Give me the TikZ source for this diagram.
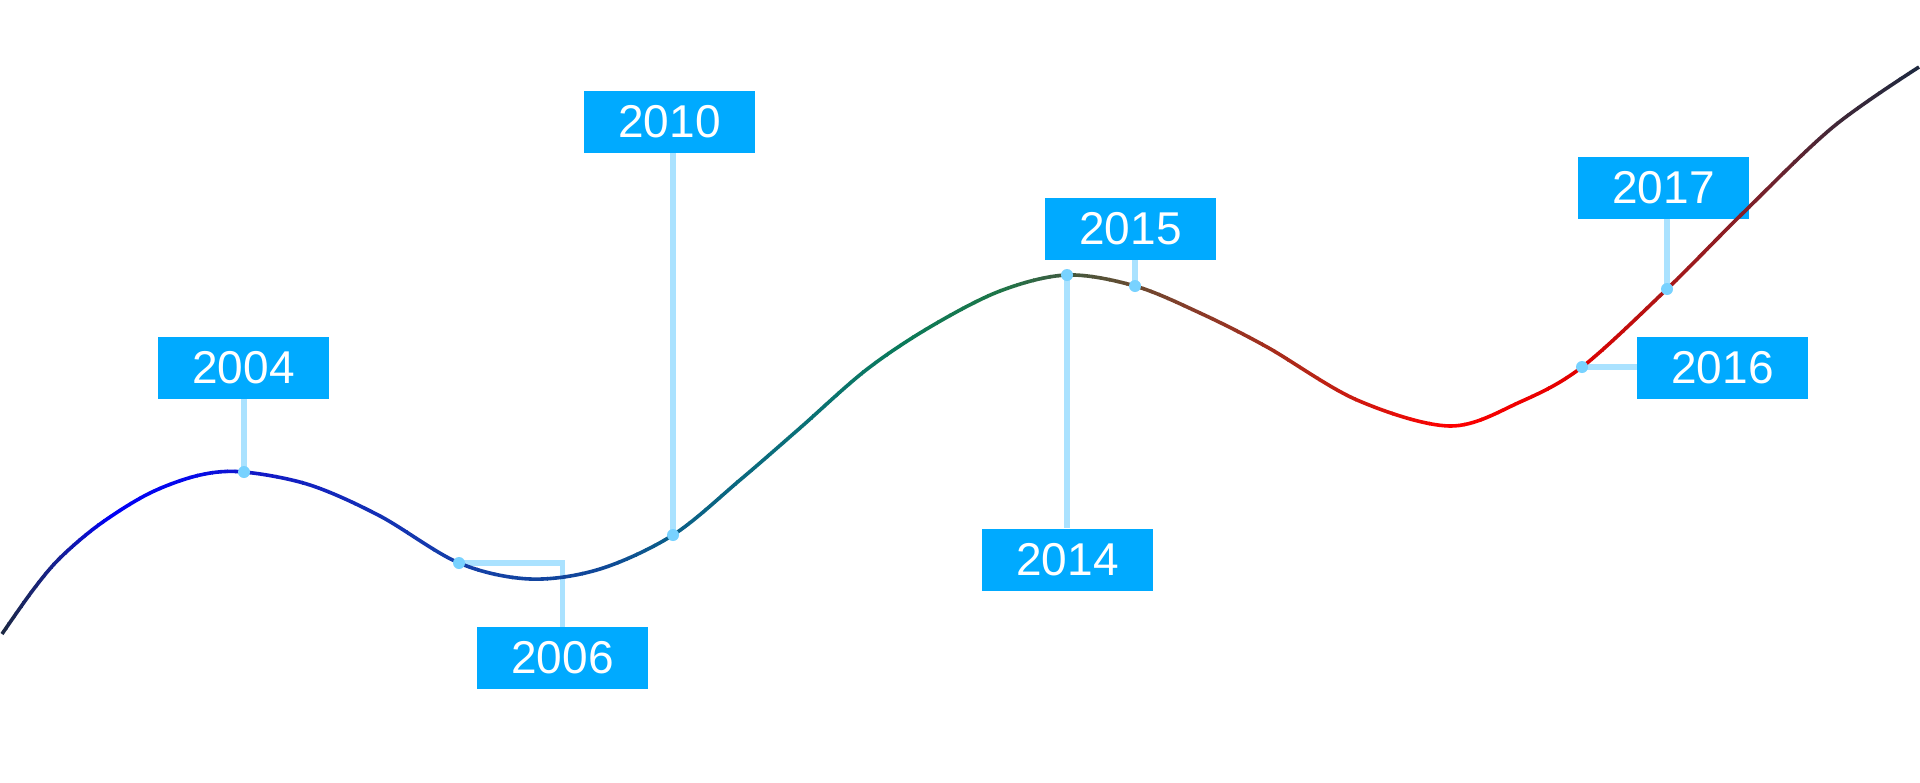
\documentclass[tikz,border=0pt]{standalone}
\usepackage{fontspec}
\setmainfont{Liberation Sans}
\definecolor{boxblue}{RGB}{0,170,255}
\definecolor{stemblue}{RGB}{170,226,255}
\definecolor{dotblue}{RGB}{120,210,255}
\definecolor{k0}{RGB}{28,40,64}
\definecolor{k1}{RGB}{22,32,150}
\definecolor{k2}{RGB}{0,0,245}
\definecolor{k3}{RGB}{5,10,235}
\definecolor{k4}{RGB}{18,24,200}
\definecolor{k5}{RGB}{20,64,168}
\definecolor{k6}{RGB}{16,72,152}
\definecolor{k7}{RGB}{10,95,136}
\definecolor{k8}{RGB}{10,112,120}
\definecolor{k9}{RGB}{10,122,90}
\definecolor{k10}{RGB}{30,118,72}
\definecolor{k11}{RGB}{64,90,64}
\definecolor{k12}{RGB}{106,74,48}
\definecolor{k13}{RGB}{138,58,40}
\definecolor{k14}{RGB}{176,40,24}
\definecolor{k15}{RGB}{255,0,0}
\definecolor{k16}{RGB}{224,0,0}
\definecolor{k17}{RGB}{168,24,24}
\definecolor{k18}{RGB}{128,32,40}
\definecolor{k19}{RGB}{64,40,56}
\definecolor{k20}{RGB}{28,40,64}
\tikzset{
  yearbox/.style={fill=boxblue, text=white, minimum width=85.5pt, minimum height=31pt,
    inner sep=0pt, font=\fontsize{23}{27}\selectfont},
  stem/.style={draw=stemblue, line width=2.6pt},
  dotmark/.style={fill=dotblue},
  curveline/.style={line width=1.8pt, line cap=butt, line join=round}
}
\def\thecurve{plot[smooth, tension=0.55] coordinates {(2,634) (33,590) (60,558) (100,524) (150,493) (200,475) (244,472) (310,485) (380,516) (459,563) (530,579) (600,569) (673,535) (740,480) (800,428) (866,370) (930,327) (1000,291) (1067,275) (1135,286) (1200,313) (1267,347) (1357,400) (1450,426) (1520,402) (1582,367) (1667,289) (1743,213) (1833,127) (1919,67)}}
\begin{document}
\begin{tikzpicture}[x=0.5pt, y=-0.5pt]
\useasboundingbox (0,0) rectangle (1920,782);
\fill[white] (0,0) rectangle (1920,782);

% anchor points on the curve
\coordinate (d2004) at (244,472);
\coordinate (d2006) at (459,563);
\coordinate (d2010) at (673,535);
\coordinate (d2014) at (1067,275);
\coordinate (d2015) at (1135,286);
\coordinate (d2016) at (1582,367);
\coordinate (d2017) at (1667,289);

% label boxes
\node[yearbox] (b2004) at (243.5,368) {2004};
\node[yearbox] (b2006) at (562.5,658) {2006};
\node[yearbox] (b2010) at (669.5,122) {2010};
\node[yearbox] (b2014) at (1067.5,559.5) {2014};
\node[yearbox] (b2015) at (1130.5,229) {2015};
\node[yearbox] (b2016) at (1722.5,367.5) {2016};
\node[yearbox] (b2017) at (1663.5,187.5) {2017};

% connectors
\draw[stem] (d2004 |- b2004.south) -- (d2004);
\draw[stem] (d2006) -| (b2006.north);
\draw[stem] (d2010 |- b2010.south) -- (d2010);
\draw[stem] (d2014) -- (d2014 |- b2014.north);
\draw[stem] (d2015 |- b2015.south) -- (d2015);
\draw[stem] (d2016) -- (d2016 -| b2016.west);
\draw[stem] (d2017 |- b2017.south) -- (d2017);

% gradient curve
\foreach \xa/\xb/\ca/\cb in {0/60/k0/k1, 60/110/k1/k2, 110/190/k2/k3, 190/250/k3/k4, 250/460/k4/k5, 460/600/k5/k6, 600/673/k6/k7, 673/800/k7/k8, 800/900/k8/k9, 900/1000/k9/k10, 1000/1067/k10/k11, 1067/1135/k11/k12, 1135/1200/k12/k13, 1200/1300/k13/k14, 1300/1448/k14/k15, 1448/1582/k15/k16, 1582/1667/k16/k17, 1667/1750/k17/k18, 1750/1837/k18/k19, 1837/1920/k19/k20} {
  \foreach \i in {0,...,7} {
    \pgfmathtruncatemacro\p{(\i+0.5)*12.5}
    \colorlet{segcol}{\cb!\p!\ca}
    \begin{scope}
      \clip ({\xa+(\xb-\xa)*\i/8-0.3}, -10) rectangle ({\xa+(\xb-\xa)*(\i+1)/8+0.3}, 800);
      \draw[curveline, draw=segcol] \thecurve;
    \end{scope}
  }
}

% dots
\foreach \d in {d2004,d2006,d2010,d2014,d2015,d2016,d2017}
  \fill[dotmark] (\d) circle (3pt);
\end{tikzpicture}
\end{document}
